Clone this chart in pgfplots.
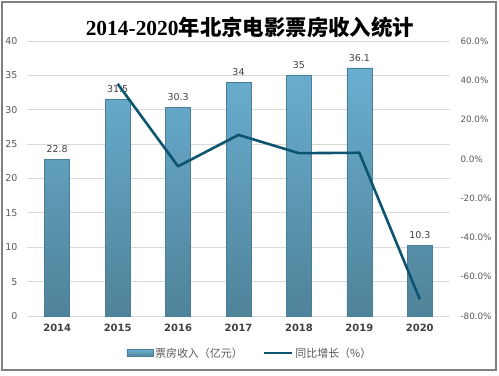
\documentclass[border=0pt]{standalone}
\usepackage{pgfplots}
\pgfplotsset{compat=1.18}
\usepackage{fontspec}
\setmainfont{DejaVu Sans}
\newfontfamily\cjk{Noto Sans CJK SC}
\newfontfamily\titleserif{Liberation Serif}
\definecolor{barTop}{HTML}{6AAED0}
\definecolor{barBot}{HTML}{4F8399}
\definecolor{barEdge}{HTML}{4A7D96}
\definecolor{lineC}{HTML}{0D5470}
\definecolor{gridC}{HTML}{D9D9D9}
\definecolor{tickC}{HTML}{595959}
\definecolor{labC}{HTML}{404040}
\begin{document}
\begin{tikzpicture}[x=1bp,y=1bp]
\path[use as bounding box] (0,0) rectangle (499,375);
\draw[color=black!50, line width=1.2bp] (2,5) rectangle (496,373);
\node[font={\fontsize{21.5}{24}\selectfont\bfseries}, text=black] at (250,348) {\titleserif 2014-2020\cjk 年北京电影票房收入统计};
\begin{axis}[
  at={(27bp,59bp)}, anchor=south west,
  scale only axis, width=423bp, height=275bp,
  xmin=-0.5, xmax=6.5, ymin=0, ymax=40,
  ytick={0,5,...,40},
  xtick={0,...,6},
  xticklabels={2014,2015,2016,2017,2018,2019,2020},
  x tick label style={font={\fontsize{10}{12}\selectfont\bfseries}, text=labC},
  y tick label style={font={\fontsize{9.5}{11}\selectfont}, text=tickC},
  ymajorgrids, grid style={gridC, line width=0.8bp},
  axis line style={draw=none},
  major tick length=0pt,
  xticklabel style={yshift=-5bp},
  yticklabel style={xshift=-6bp},
  clip=false,
  /pgf/number format/assume math mode=true,
]
\addplot[ybar, bar width=25bp, draw=barEdge, line width=0.6bp, top color=barTop, bottom color=barBot,
  nodes near coords, nodes near coords style={font={\fontsize{9.5}{11}\selectfont}, text=labC, anchor=south, yshift=3bp},
  point meta=explicit symbolic]
  coordinates {(0,22.8)[22.8] (1,31.5)[31.5] (2,30.3)[30.3] (3,34)[34] (4,35)[35] (5,36.1)[36.1] (6,10.3)[10.3]};
\end{axis}
\begin{axis}[
  at={(27bp,59bp)}, anchor=south west,
  scale only axis, width=423bp, height=275bp,
  xmin=-0.5, xmax=6.5, ymin=-80, ymax=60,
  ytick={-80,-60,...,60},
  axis x line=none,
  axis y line*=right,
  axis line style={draw=none},
  major tick length=0pt,
  yticklabel={\pgfmathprintnumber[fixed,fixed zerofill,precision=1]{\tick}\%},
  y tick label style={font={\fontsize{8.8}{11}\selectfont}, text=tickC},
  yticklabel style={xshift=7bp},
  /pgf/number format/assume math mode=true,
  clip=false,
  legend style={at={(0.527,-0.135)}, anchor=center, draw=none, fill=none,
    font={\cjk\fontsize{11}{13}\selectfont}, text=tickC, legend columns=2,
    /tikz/every even column/.append style={column sep=18bp}},
  legend cell align=left,
]
\addlegendimage{legend image code/.code={\draw[draw=barEdge, line width=0.5bp, top color=barTop, bottom color=barBot] (0bp,-3.5bp) rectangle (26bp,3.5bp);}}
\addlegendentry{票房收入（亿元）}
\addplot[lineC, line width=2.6bp, mark=none, line join=round,
  legend image code/.code={\draw[lineC, line width=2.6bp] (0bp,0bp) -- (28bp,0bp);}]
  coordinates {(1,38.2) (2,-3.8) (3,12.2) (4,2.9) (5,3.1) (6,-71.5)};
\addlegendentry{同比增长（\%）}
\end{axis}
\end{tikzpicture}
\end{document}
